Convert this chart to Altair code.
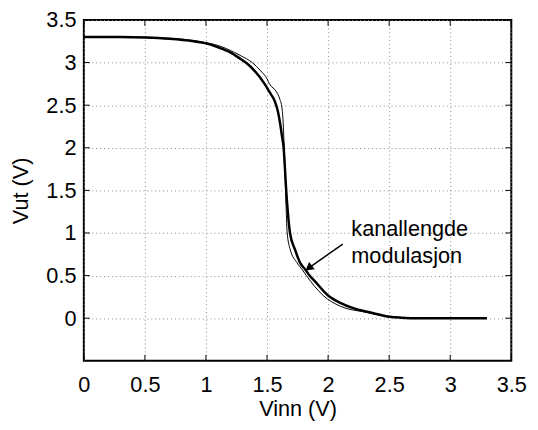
import altair as alt
import pandas as pd

# Thick curve: with channel length modulation (kanallengde modulasjon)
vin_thick = [0.0, 0.3, 0.5, 0.7, 0.9, 1.0, 1.1, 1.2, 1.286, 1.326, 1.4, 1.48, 1.52,
             1.565, 1.59, 1.608, 1.622, 1.636, 1.647, 1.657, 1.67, 1.688, 1.729, 1.77,
             1.816, 1.848, 1.9, 2.0, 2.1, 2.2, 2.347, 2.506, 2.6, 2.75, 3.3]
vout_thick = [3.3, 3.3, 3.295, 3.28, 3.25, 3.226, 3.18, 3.12, 3.04, 3.0, 2.9, 2.75, 2.655,
              2.54, 2.42, 2.28, 2.14, 2.0, 1.75, 1.5, 1.25, 1.0, 0.806, 0.652,
              0.566, 0.5, 0.42, 0.266, 0.18, 0.12, 0.066, 0.016, 0.006, 0.0, 0.0]

# Thin curve: without channel length modulation
vin_thin = [0.0, 0.5, 0.7, 0.9, 1.0, 1.1, 1.233, 1.286, 1.379, 1.45, 1.5, 1.52, 1.578,
            1.605, 1.622, 1.632, 1.638, 1.641, 1.652, 1.665, 1.69, 1.745, 1.79, 1.822,
            1.96, 2.1, 2.29, 2.5, 2.7, 3.3]
vout_thin = [3.3, 3.298, 3.285, 3.26, 3.235, 3.2, 3.12, 3.08, 3.0, 2.9, 2.81, 2.75, 2.655,
             2.57, 2.47, 2.3, 2.1, 2.0, 1.5, 1.0, 0.806, 0.652, 0.566, 0.5,
             0.266, 0.14, 0.074, 0.02, 0.003, 0.0]

x_ticks = [0, 0.5, 1, 1.5, 2, 2.5, 3, 3.5]
y_ticks = [0, 0.5, 1, 1.5, 2, 2.5, 3, 3.5]

label_lines = ["kanallengde", "modulasjon"]
label_x = [2.19, 2.19]
label_y = [0.97, 0.645]

arrow_x = [2.12, 1.855]
arrow_y = [0.87, 0.603]
arrow_tip_x = [1.85]
arrow_tip_y = [0.598]

FONT = "Liberation Sans"
FS = 22

W, H = 434, 346

xscale = alt.Scale(domain=[0, 3.5], nice=False, zero=False)
yscale = alt.Scale(domain=[-0.5, 3.5], nice=False, zero=False)

axis_common = dict(grid=True, gridDash=[1, 3], gridColor="#888888", gridWidth=1,
                   gridOpacity=1, ticks=False, domain=False, labelFont=FONT,
                   labelFontSize=FS, labelColor="black", titleFont=FONT,
                   titleFontSize=FS, titleFontWeight="normal", titleColor="black",
                   labelExpr="format(datum.value, '~g')")

xaxis = alt.Axis(values=x_ticks, title="Vinn (V)", labelPadding=14, titlePadding=4,
                 labelFlush=False, **axis_common)
yaxis = alt.Axis(values=y_ticks, title="Vut (V)", labelPadding=8, titlePadding=14,
                 labelFlush=False, **axis_common)

df_thick = pd.DataFrame({"vin": vin_thick, "vout": vout_thick, "i": range(len(vin_thick))})
df_thin = pd.DataFrame({"vin": vin_thin, "vout": vout_thin, "i": range(len(vin_thin))})

thin = alt.Chart(df_thin).mark_line(color="black", strokeWidth=1, interpolate="monotone").encode(
    x=alt.X("vin:Q", scale=xscale, axis=xaxis),
    y=alt.Y("vout:Q", scale=yscale, axis=yaxis),
    order="i:Q",
)
thick = alt.Chart(df_thick).mark_line(color="black", strokeWidth=2.5, interpolate="monotone").encode(
    x=alt.X("vin:Q", scale=xscale, axis=xaxis),
    y=alt.Y("vout:Q", scale=yscale, axis=yaxis),
    order="i:Q",
)

df_xt = pd.DataFrame({"t": x_ticks})
df_yt = pd.DataFrame({"t": y_ticks})
xt_bottom = alt.Chart(df_xt).mark_rule(color="black", strokeWidth=1).encode(
    x=alt.X("t:Q", scale=xscale, axis=xaxis), y=alt.value(H), y2=alt.value(H - 6))
xt_top = alt.Chart(df_xt).mark_rule(color="black", strokeWidth=1).encode(
    x=alt.X("t:Q", scale=xscale, axis=xaxis), y=alt.value(0), y2=alt.value(6))
yt_left = alt.Chart(df_yt).mark_rule(color="black", strokeWidth=1).encode(
    y=alt.Y("t:Q", scale=yscale, axis=yaxis), x=alt.value(0), x2=alt.value(6))
yt_right = alt.Chart(df_yt).mark_rule(color="black", strokeWidth=1).encode(
    y=alt.Y("t:Q", scale=yscale, axis=yaxis), x=alt.value(W), x2=alt.value(W - 6))

df_lab = pd.DataFrame({"txt": label_lines, "x": label_x, "y": label_y})
labels = alt.Chart(df_lab).mark_text(align="left", baseline="alphabetic", font=FONT,
                                     fontSize=FS, color="black").encode(
    x=alt.X("x:Q", scale=xscale, axis=xaxis),
    y=alt.Y("y:Q", scale=yscale, axis=yaxis),
    text="txt:N",
)

df_arr = pd.DataFrame({"x": arrow_x, "y": arrow_y, "i": [0, 1]})
arrow_line = alt.Chart(df_arr).mark_line(color="black", strokeWidth=1.5).encode(
    x=alt.X("x:Q", scale=xscale, axis=xaxis),
    y=alt.Y("y:Q", scale=yscale, axis=yaxis),
    order="i:Q",
)
df_tip = pd.DataFrame({"x": arrow_tip_x, "y": arrow_tip_y})
arrow_head = alt.Chart(df_tip).mark_point(shape="triangle", filled=True, color="black",
                                          opacity=1, size=90, angle=233).encode(
    x=alt.X("x:Q", scale=xscale, axis=xaxis),
    y=alt.Y("y:Q", scale=yscale, axis=yaxis),
)

chart = alt.layer(thin, thick, xt_bottom, xt_top, yt_left, yt_right,
                  labels, arrow_line, arrow_head).properties(
    width=W, height=H,
    autosize=alt.AutoSizeParams(type="none"),
    padding={"left": 77, "top": 9, "right": 19, "bottom": 60},
).configure_view(stroke="black", strokeWidth=2)

chart.save("out.html", embed_options={"renderer": "svg", "actions": False})
